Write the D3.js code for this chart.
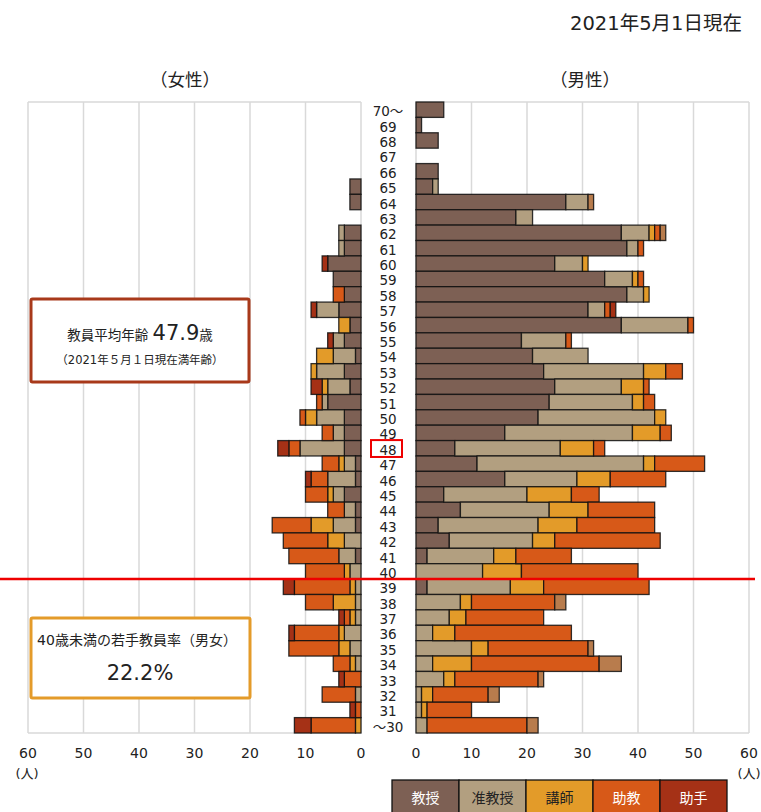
<!DOCTYPE html>
<html>
<head>
<meta charset="utf-8">
<script src="https://cdn.jsdelivr.net/npm/d3@7"></script>
<style>
  body { margin: 0; background: #fff; }
  text { font-family: "DejaVu Sans", "Noto Sans CJK JP", sans-serif; fill: #222; }
</style>
</head>
<body>
<div class="chart"></div>
<script>
// age rows, top to bottom
const ages = ["70～","69","68","67","66","65","64","63","62","61","60","59","58","57","56","55","54","53","52","51",
  "50","49","48","47","46","45","44","43","42","41","40","39","38","37","36","35","34","33","32","31","～30"];

const seriesNames = ["教授", "准教授", "講師", "助教", "助手", "その他"];
const seriesColors = ["#7d6054", "#b29f80", "#e39b29", "#d75918", "#a53116", "#b87c4d"];

// male (男性)
const maleProf   = [5,1,4,0,4,3,27,18,37,38,25,34,38,31,37,19,21,23,25,24,22,16,7,11,16,5,8,4,6,2,0,2,0,0,0,0,0,0,0,0,0];
const maleAssoc  = [0,0,0,0,0,1,4,3,5,2,5,5,3,3,12,8,10,18,12,15,21,23,19,30,13,15,16,18,15,12,12,15,8,6,3,10,3,5,1,1,2];
const maleLect   = [0,0,0,0,0,0,0,0,1,0,1,1,1,0,0,0,0,4,4,2,2,5,6,2,6,8,7,7,4,4,7,6,2,3,4,3,7,2,2,1,0];
const maleAsst   = [0,0,0,0,0,0,0,0,1,1,0,1,0,1,1,1,0,3,1,2,0,2,2,9,10,5,12,14,19,10,21,19,15,14,21,18,23,15,10,8,18];
const maleAide   = [0,0,0,0,0,0,0,0,0,0,0,0,0,1,0,0,0,0,0,0,0,0,0,0,0,0,0,0,0,0,0,0,0,0,0,0,0,0,0,0,0];
const maleOther  = [0,0,0,0,0,0,1,0,1,0,0,0,0,0,0,0,0,0,0,0,0,0,0,0,0,0,0,0,0,0,0,0,2,0,0,1,4,1,2,0,2];

// female (女性)
const femaleProf  = [0,0,0,0,0,2,2,0,3,3,6,5,3,4,2,3,1,3,2,6,3,3,3,1,1,3,1,1,0,1,0,0,0,0,0,0,0,0,0,0,0];
const femaleAssoc = [0,0,0,0,0,0,0,0,1,1,0,0,0,4,0,2,4,5,4,1,5,2,8,2,5,2,2,4,3,3,2,1,1,1,3,2,1,0,1,0,0];
const femaleLect  = [0,0,0,0,0,0,0,0,0,0,0,0,0,0,2,0,3,1,1,0,2,0,0,1,0,1,0,4,3,0,1,1,4,1,1,2,1,0,0,0,1];
const femaleAsst  = [0,0,0,0,0,0,0,0,0,0,0,0,2,0,0,0,0,0,0,1,1,2,2,3,3,4,3,7,8,9,7,10,5,1,8,9,3,3,6,1,8];
const femaleAide  = [0,0,0,0,0,0,0,0,0,0,1,0,0,1,0,1,0,0,2,0,0,0,2,0,1,0,0,0,0,0,0,2,0,1,1,0,0,1,0,1,3];
const femaleOther = ages.map(() => 0);

const xTicks = [0, 10, 20, 30, 40, 50, 60];

const width = 761, height = 812;
const plotTop = 102, plotBottom = 733;

const svg = d3.select(".chart").append("svg")
    .attr("width", width)
    .attr("height", height);

const y = d3.scaleBand().domain(ages).range([plotTop, plotBottom]).padding(0);
const xM = d3.scaleLinear().domain([0, 60]).range([416, 749]);
const xF = d3.scaleLinear().domain([0, 60]).range([361, 28]);

function rows(cols) {
  return ages.map((a, i) => {
    const r = {age: a};
    seriesNames.forEach((k, j) => { r[k] = cols[j][i]; });
    return r;
  });
}
const maleRows = rows([maleProf, maleAssoc, maleLect, maleAsst, maleAide, maleOther]);
const femaleRows = rows([femaleProf, femaleAssoc, femaleLect, femaleAsst, femaleAide, femaleOther]);

const stack = d3.stack().keys(seriesNames);

// grid + frame
function grid(x) {
  const g = svg.append("g").attr("class", "grid");
  g.selectAll("line.v").data(xTicks).join("line")
      .attr("x1", d => x(d)).attr("x2", d => x(d))
      .attr("y1", plotTop).attr("y2", plotBottom)
      .attr("stroke", "#d9d9d9").attr("stroke-width", 1.5);
  g.append("line")
      .attr("x1", x(0)).attr("x2", x(60))
      .attr("y1", plotTop).attr("y2", plotTop)
      .attr("stroke", "#d9d9d9").attr("stroke-width", 1.5);
  g.append("line")
      .attr("x1", x(0)).attr("x2", x(60))
      .attr("y1", plotBottom).attr("y2", plotBottom)
      .attr("stroke", "#d9d9d9").attr("stroke-width", 1.5);
}
grid(xF);
grid(xM);

// bars
function bars(data, x) {
  const layers = stack(data);
  svg.append("g").selectAll("g")
    .data(layers).join("g")
      .attr("fill", (d, i) => seriesColors[i])
    .selectAll("rect")
    .data(d => d.filter(v => v[1] - v[0] > 0)).join("rect")
      .attr("x", d => Math.min(x(d[0]), x(d[1])))
      .attr("width", d => Math.abs(x(d[1]) - x(d[0])))
      .attr("y", d => y(d.data.age))
      .attr("height", y.bandwidth())
      .attr("stroke", "#111")
      .attr("stroke-opacity", 0.85)
      .attr("stroke-width", 1.3);
}
bars(femaleRows, xF);
bars(maleRows, xM);

// age labels
svg.append("g").selectAll("text")
  .data(ages).join("text")
    .attr("x", 388)
    .attr("y", d => y(d) + y.bandwidth() / 2 + 1.5)
    .attr("text-anchor", "middle")
    .attr("dominant-baseline", "central")
    .style("font-size", "13.5px")
    .text(d => d);

// highlight average age
svg.append("rect")
    .attr("x", 371).attr("y", y("48") - 0.5)
    .attr("width", 31).attr("height", y.bandwidth() + 1.5)
    .attr("fill", "none").attr("stroke", "#ee0000").attr("stroke-width", 2);

// tick labels
[xF, xM].forEach(x => {
  svg.append("g").selectAll("text")
    .data(xTicks).join("text")
      .attr("x", d => x(d))
      .attr("y", 753)
      .attr("text-anchor", "middle")
      .attr("dominant-baseline", "central")
      .style("font-size", "14px")
      .text(d => d);
});
svg.append("text").attr("x", 27).attr("y", 773).attr("text-anchor", "middle")
    .attr("dominant-baseline", "central").style("font-size", "13px").text("(人)");
svg.append("text").attr("x", 749).attr("y", 773).attr("text-anchor", "middle")
    .attr("dominant-baseline", "central").style("font-size", "13px").text("(人)");

// titles
svg.append("text").attr("x", 742).attr("y", 23).attr("text-anchor", "end")
    .attr("dominant-baseline", "central").style("font-size", "19.5px").text("2021年5月1日現在");
svg.append("text").attr("x", 185).attr("y", 80).attr("text-anchor", "middle")
    .attr("dominant-baseline", "central").style("font-size", "17.5px").text("（女性）");
svg.append("text").attr("x", 585).attr("y", 80).attr("text-anchor", "middle")
    .attr("dominant-baseline", "central").style("font-size", "17.5px").text("（男性）");

// 40 line
svg.append("line")
    .attr("x1", 0).attr("x2", 755)
    .attr("y1", y("39")).attr("y2", y("39"))
    .attr("stroke", "#ee0000").attr("stroke-width", 2.5);

// info boxes
const box1 = svg.append("g");
box1.append("rect").attr("x", 31).attr("y", 299).attr("width", 218).attr("height", 83)
    .attr("fill", "#fff").attr("stroke", "#a8391a").attr("stroke-width", 3).attr("rx", 1.5);
const t1 = box1.append("text").attr("x", 140).attr("y", 340).attr("text-anchor", "middle");
t1.append("tspan").style("font-size", "13.5px").text("教員平均年齢 ");
t1.append("tspan").style("font-size", "21px").text("47.9");
t1.append("tspan").style("font-size", "13.5px").text("歳");
box1.append("text").attr("x", 140).attr("y", 364).attr("text-anchor", "middle")
    .style("font-size", "11.5px").text("（2021年５月１日現在満年齢）");

const box2 = svg.append("g");
box2.append("rect").attr("x", 31).attr("y", 618).attr("width", 219).attr("height", 80)
    .attr("fill", "#fff").attr("stroke", "#e49b2a").attr("stroke-width", 3).attr("rx", 1.5);
box2.append("text").attr("x", 137).attr("y", 645).attr("text-anchor", "middle")
    .style("font-size", "14px").text("40歳未満の若手教員率（男女）");
box2.append("text").attr("x", 140).attr("y", 680).attr("text-anchor", "middle")
    .style("font-size", "21px").text("22.2%");

// legend
const legendNames = seriesNames.slice(0, 5);
const lx = d3.scaleBand().domain(legendNames).range([392, 727]);
const lg = svg.append("g").selectAll("g").data(legendNames).join("g");
lg.append("rect")
    .attr("x", d => lx(d)).attr("y", 780)
    .attr("width", lx.bandwidth()).attr("height", 34)
    .attr("fill", (d, i) => seriesColors[i])
    .attr("stroke", "#111").attr("stroke-width", 1.3);
lg.append("text")
    .attr("x", d => lx(d) + lx.bandwidth() / 2).attr("y", 798)
    .attr("text-anchor", "middle").attr("dominant-baseline", "central")
    .style("font-size", "14px")
    .style("fill", (d, i) => (i === 1 || i === 2) ? "#222" : "#fff")
    .text(d => d);
</script>
</body>
</html>
